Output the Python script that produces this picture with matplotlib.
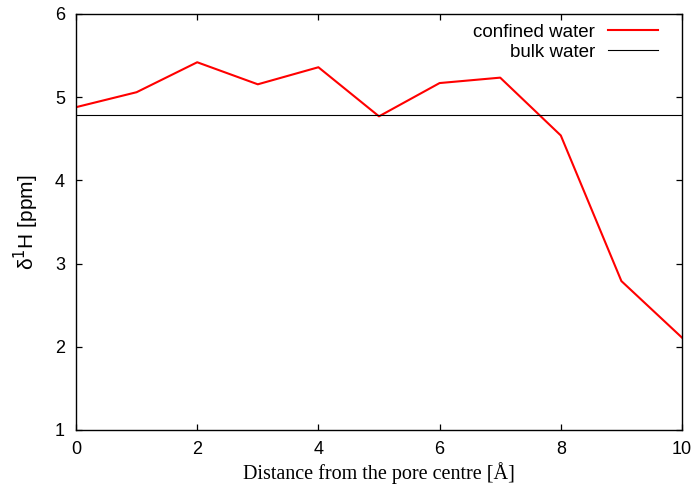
import matplotlib.pyplot as plt

distance = [0, 1, 2, 3, 4, 5, 6, 7, 8, 9, 10]
shift_confined = [4.88, 5.06, 5.42, 5.155, 5.36, 4.77, 5.17, 5.235, 4.54, 2.79, 2.11]
shift_bulk = 4.79

plt.rcParams['font.family'] = ['Liberation Sans', 'DejaVu Sans']

fig = plt.figure(figsize=(6.95, 4.91), dpi=100)
ax = fig.add_axes([76 / 695, 1 - 430 / 491, (682 - 76) / 695, (430 - 14) / 491])

ax.plot(distance, shift_confined, color='#ff0000', linewidth=1.5, label='confined water')
ax.axhline(shift_bulk, color='black', linewidth=0.8, label='bulk water')

ax.set_xlim(0, 10)
ax.set_ylim(1, 6)
ax.set_xticks(range(0, 11, 2))
ax.set_yticks(range(1, 7))
ax.tick_params(direction='in', length=4.5, width=0.9, top=True, right=True,
               labelsize=13, pad=8)
for sp in ax.spines.values():
    sp.set_linewidth(1.0)

ax.set_xlabel('Distance from the pore centre [Å]', fontsize=14.5,
              family=['Liberation Serif', 'DejaVu Serif'], labelpad=3)
ax.set_ylabel('δ$^1$H [ppm]', fontsize=15, labelpad=10)

leg = ax.legend(loc='upper right', bbox_to_anchor=(1 - 22 / 606, 1 - 8 / 416),
                frameon=False, markerfirst=False, fontsize=13.5,
                handlelength=2.67, handletextpad=0.7, labelspacing=0.14,
                borderpad=0.1, borderaxespad=0)
for t in leg.get_texts():
    t.set_ha('right')

fig.savefig('out.png', dpi=100)
